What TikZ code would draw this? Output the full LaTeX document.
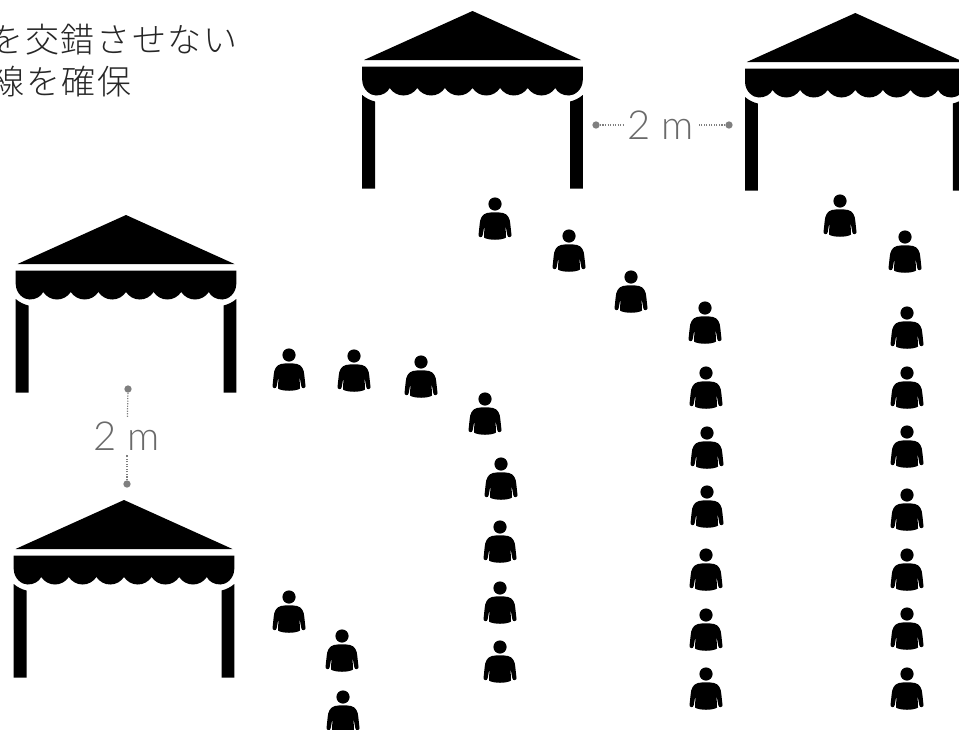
\documentclass[tikz,border=0pt]{standalone}
\usepackage{fontspec}
\newfontfamily\cjk[LetterSpace=5]{Noto Sans CJK JP Light}
\newfontfamily\lab{Lato Light}
\definecolor{dimgray}{HTML}{6A6A6A}
\definecolor{dotgray}{HTML}{7F7F7F}
\tikzset{
  x=0.75pt,y=-0.75pt,
  tent/.pic={
    \fill[black] (0,0) -- (108.5,49) -- (-108.5,49) -- cycle;
    \fill[black] (-110.3,55.7) -- (110.3,55.7) -- (110.3,69)
      .. controls (110,79) and (102,84.5) .. (96.5,84.5)
      .. controls (90,84.5) and (85,81.5) .. (82.8,77)
      \foreach \k in {0,...,5}{ .. controls ({82.8-\k*27.6-3},81.5) and ({82.8-\k*27.6-8},84.5) .. ({82.8-\k*27.6-13.8},84.5)
         .. controls ({82.8-\k*27.6-19.6},84.5) and ({82.8-\k*27.6-24.6},81.5) .. ({82.8-\k*27.6-27.6},77)}
      .. controls (-85,81.5) and (-90,84.5) .. (-96.5,84.5)
      .. controls (-102,84.5) and (-110,79) .. (-110.3,69) -- cycle;
    \fill[black] (-110.3,84) .. controls (-107,87) and (-102,89.5) .. (-97.5,90.5) -- (-97.5,177.7) -- (-110.3,177.7) -- cycle;
    \fill[black] (110.3,84) .. controls (107,87) and (102,89.5) .. (97.5,90.5) -- (97.5,177.7) -- (110.3,177.7) -- cycle;
  },
  person/.pic={
    \fill[black] (0,0) circle[radius=6.6];
    \fill[black] (-8,9) .. controls (-13,10) and (-15,15) .. (-15.3,20) -- (-16.5,31)
      .. controls (-16.7,33.5) and (-12.8,34) .. (-12.4,31.5) -- (-10.5,21) -- (-11,33.5)
      .. controls (-7,36.5) and (7,36.5) .. (11,33.5) -- (10.5,21) -- (12.4,31.5)
      .. controls (12.8,34) and (16.7,33.5) .. (16.5,31) -- (15.3,20)
      .. controls (15,15) and (13,10) .. (8,9)
      .. controls (3,8) and (-3,8) .. (-8,9) -- cycle;
  },
  dimdot/.style={circle,fill=dotgray,inner sep=0pt,minimum size=5.5pt},
  dimlabel/.style={font=\lab\fontsize{30}{32}\selectfont,text=dimgray,inner sep=3pt},
  dimline/.style={dotgray,line width=0.9pt,densely dotted},
  headline/.style={font=\cjk\fontsize{25.5}{28}\selectfont,text=black!85,inner sep=0pt,anchor=base east},
}
\begin{document}
\begin{tikzpicture}
\useasboundingbox (0,0) rectangle (959,729);
\clip (0,0) rectangle (959,729);
\node[headline] (t1) at (238,52) {を交錯させない};
\node[headline] (t2) at (132,94) {線を確保};
\pic at (472.5,11) {tent};
\pic at (855.3,13) {tent};
\pic at (126,215) {tent};
\pic at (124,500) {tent};
\foreach \a/\b in {495/204,569/236,631/277,705/308,706/373,707/433,707/492,706/555,706/615,706/674,
  840/201,905/237,907/313,907/373,907/432,907/495,907/555,907/614,907/674,
  289/355,354/356,421/362,485/399,501/464,500/527,500/588,500/647,
  289/597,342/636,343/697}{
  \pic at (\a,\b) {person};
}
\node[dimdot] (a1) at (596,125) {};
\node[dimdot] (a2) at (729,125) {};
\node[dimlabel] (la) at (661,125) {2 m};
\draw[dimline] (a1) -- (la);
\draw[dimline] (a2) -- (la);
\node[dimdot] (b1) at (128,389) {};
\node[dimdot] (b2) at (127,484) {};
\node[dimlabel] (lb) at (127,436) {2 m};
\draw[dimline] (b1) -- (lb);
\draw[dimline] (b2) -- (lb);
\end{tikzpicture}
\end{document}
